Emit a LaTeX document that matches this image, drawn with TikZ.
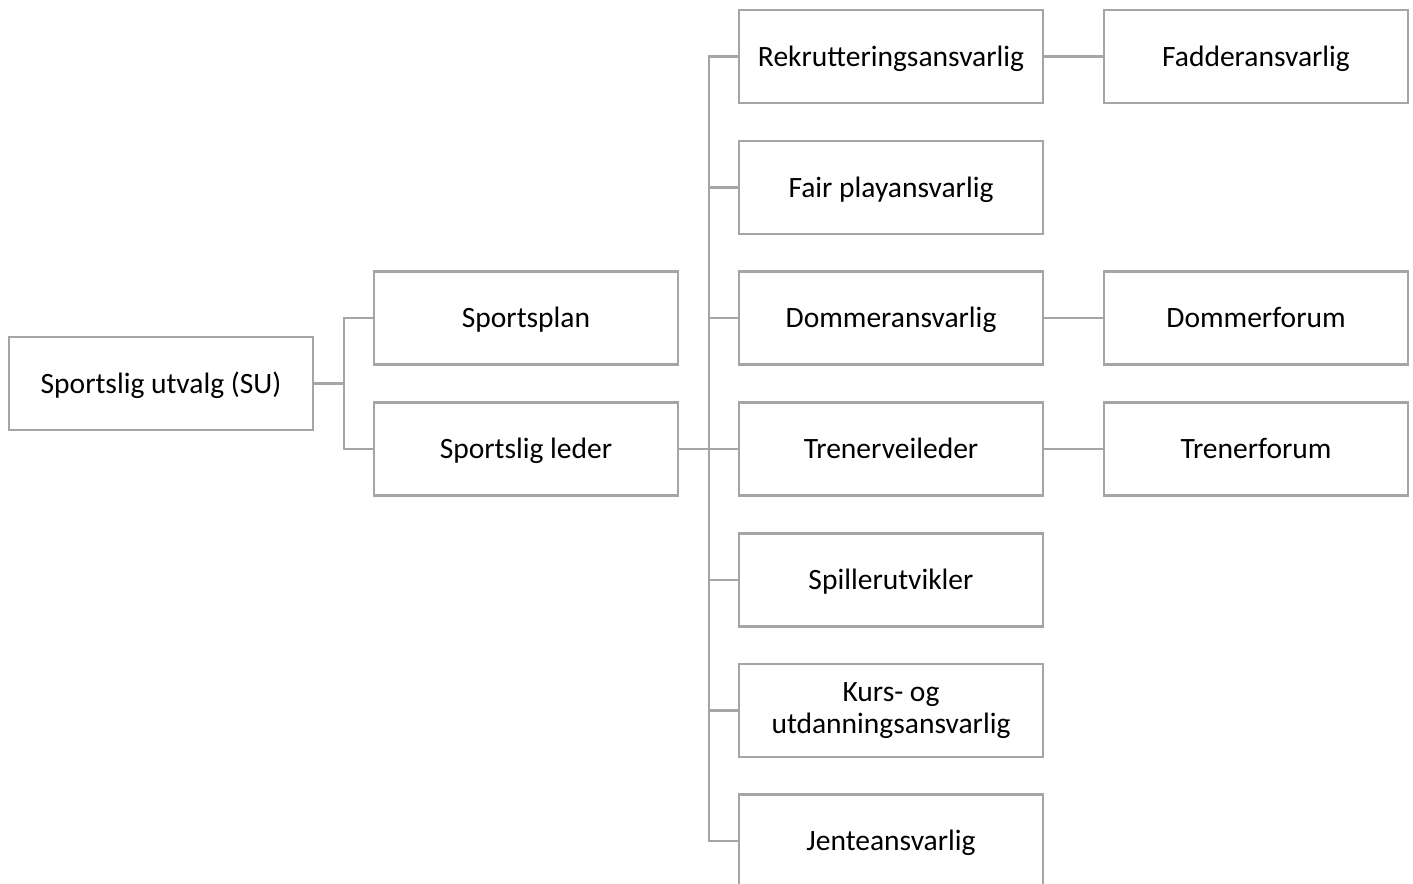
\documentclass[tikz,border=0pt]{standalone}
\usepackage{fontspec}
\setmainfont{Carlito}
\definecolor{linegrey}{HTML}{A5A5A5}
\begin{document}
\begin{tikzpicture}[x=0.02cm, y=-0.02cm,
  boksbase/.style={draw=linegrey, line width=1.4pt, fill=white,
    minimum width=6.08cm, minimum height=1.86cm, align=center,
    font=\fontsize{16.8}{18.6}\selectfont},
  boks/.style={boksbase, text height=14pt, text depth=3pt},
  kobling/.style={draw=linegrey, line width=1.4pt}]
  \clip (0,0) rectangle (1413,883);

  % Level 1 and 2
  \node[boks] (su) at (161,383.5) {Sportslig utvalg (SU)};
  \node[boks] (plan) at (526,318) {Sportsplan};
  \node[boks] (leder) at (526,449) {Sportslig leder};

  % Level 3
  \node[boks] (rekrutt) at (891,56.5) {Rekrutteringsansvarlig};
  \node[boks] (fair) at (891,187.5) {Fair playansvarlig};
  \node[boks] (dommer) at (891,318) {Dommeransvarlig};
  \node[boks] (trener) at (891,449) {Trenerveileder};
  \node[boks] (spiller) at (891,580) {Spillerutvikler};
  \node[boksbase] (kurs) at (891,710.5) {\raisebox{-3.5pt}{\parbox{5cm}{\centering Kurs- og\\utdanningsansvarlig}}};
  \node[boks] (jente) at (891,841) {Jenteansvarlig};

  % Level 4
  \node[boks] (fadder) at (1256,56.5) {Fadderansvarlig};
  \node[boks] (dforum) at (1256,318) {Dommerforum};
  \node[boks] (tforum) at (1256,449) {Trenerforum};

  % Connectors
  \foreach \n in {plan,leder}
    \draw[kobling] (su.east) -- ++(30,0) |- (\n.west);
  \foreach \n in {rekrutt,fair,dommer,trener,spiller,kurs,jente}
    \draw[kobling] (leder.east) -- ++(30,0) |- (\n.west);
  \draw[kobling] (rekrutt) -- (fadder);
  \draw[kobling] (dommer) -- (dforum);
  \draw[kobling] (trener) -- (tforum);
\end{tikzpicture}
\end{document}
